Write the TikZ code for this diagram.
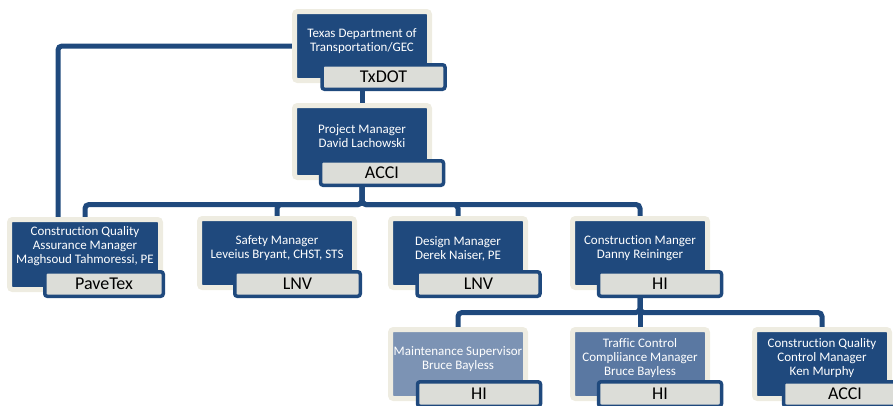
\documentclass[tikz,border=0pt]{standalone}
\usepackage{fontspec}
\setmainfont{Carlito}[Ligatures={NoCommon,NoContextual}]
\usetikzlibrary{backgrounds}

\definecolor{boxblue}{HTML}{1F497D}
\definecolor{lineblue}{HTML}{1F497D}
\definecolor{cream}{HTML}{EEECE1}
\definecolor{tagfill}{HTML}{DCDDD8}
\definecolor{paleblue}{HTML}{7C93B4}
\definecolor{midblue}{HTML}{5A78A2}

\begin{document}
\begin{tikzpicture}[x=1pt,y=-1pt,
    role/.style={rectangle,fill=boxblue,draw=cream,line width=5pt,rounded corners=3pt,minimum width=135pt,minimum height=69pt},
    roletext/.style={text=white,font=\fontsize{13}{14}\selectfont,align=center,inner sep=0pt},
    firm/.style={rectangle,fill=tagfill,draw=boxblue,line width=3.5pt,rounded corners=2.5pt,minimum width=123pt,minimum height=24.5pt,inner sep=0pt,text=black,font=\fontsize{18}{20}\selectfont},
    link/.style={draw=lineblue,line width=5pt,rounded corners=4pt}]
    \useasboundingbox (0,0) rectangle (893,405);
    \clip (0,0) rectangle (893,405);
    % top
    \node[role] (txdot) at (362,46) {};
    \node[roletext] (txdottext) at (362,41.5) {Texas Department of\\Transportation/GEC};
    \node[firm] (txdotfirm) at (383.5,77) {TxDOT};
    \node[role,minimum height=72pt] (pm) at (362,141.5) {};
    \node[roletext] (pmtext) at (362,136) {Project Manager\\David Lachowski};
    \node[firm] (pmfirm) at (382,173) {ACCI};
    % managers
    \node[role,minimum width=151pt,minimum height=70pt] (qa) at (85,254.5) {};
    \node[roletext] (qatext) at (85,246.5) {Construction Quality\\Assurance Manager\\Maghsoud Tahmoressi, PE};
    \node[firm,minimum width=118.5pt] (qafirm) at (104,284) {PaveTex};
    \node[role,minimum width=155pt] (safety) at (277,253) {};
    \node[roletext] (safetytext) at (277,248.5) {Safety Manager\\Leveius Bryant, CHST, STS};
    \node[firm,minimum width=125.5pt] (safetyfirm) at (297.5,284) {LNV};
    \node[role] (design) at (458,253) {};
    \node[roletext] (designtext) at (458,248.5) {Design Manager\\Derek Naiser, PE};
    \node[firm] (designfirm) at (478.5,284) {LNV};
    \node[role] (cm) at (640,253) {};
    \node[roletext] (cmtext) at (640,248.5) {Construction Manger\\Danny Reininger};
    \node[firm] (cmfirm) at (660,284) {HI};
    % under construction manager
    \node[role,fill=paleblue] (maint) at (458,364) {};
    \node[roletext] (mainttext) at (458,359) {Maintenance Supervisor\\Bruce Bayless};
    \node[firm] (maintfirm) at (479,394) {HI};
    \node[role,fill=midblue] (traffic) at (640,364) {};
    \node[roletext] (traffictext) at (640,358) {Traffic Control\\Compliiance Manager\\Bruce Bayless};
    \node[firm] (trafficfirm) at (660,394) {HI};
    \node[role] (qc) at (822,364) {};
    \node[roletext] (qctext) at (822,358) {Construction Quality\\Control Manager\\Ken Murphy};
    \node[firm] (qcfirm) at (845,394) {ACCI};
    % connectors
    \begin{scope}[on background layer]
      \coordinate (bus1) at (362,204.5);
      \coordinate (bus2) at (640,312.5);
      \draw[link] (txdot.west) -| ([xshift=-27pt]qa.north);
      \draw[link] (txdot) -- (pm);
      \foreach \c in {qa,safety,design,cm}
        \draw[link] (pm.south) -- (bus1) -| (\c.north);
      \foreach \c in {maint,traffic,qc}
        \draw[link] (cm.south) -- (bus2) -| (\c.north);
    \end{scope}
\end{tikzpicture}
\end{document}
